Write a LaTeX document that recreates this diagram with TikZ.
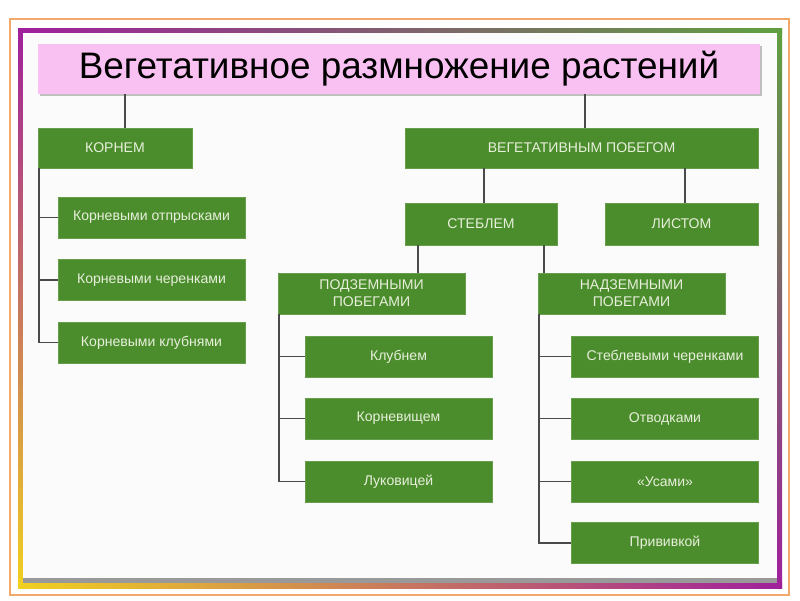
\documentclass[tikz,border=0pt]{standalone}
\usepackage{fontspec}
\setmainfont{Liberation Sans}
\usepackage{xcolor}
\usepackage{tikz}
\usetikzlibrary{positioning}
\definecolor{boxgreen}{HTML}{4B8D2C}
\definecolor{boxtext}{HTML}{E8EFDC}
\definecolor{titlepink}{HTML}{F9C0F2}
\definecolor{frameorange}{HTML}{F2A868}
\definecolor{framepurple}{HTML}{A0209C}
\definecolor{framered}{HTML}{E8283C}
\definecolor{frameyellow}{HTML}{F0D020}
\definecolor{framegreen}{HTML}{60A040}
\definecolor{frameblue}{HTML}{2040B0}
\definecolor{linegray}{HTML}{4A4A4A}
\definecolor{panelwhite}{HTML}{FBFBFB}
\tikzset{
  box/.style={draw=boxgreen!85!white, fill=boxgreen, text=boxtext, align=center,
    font=\fontsize{8}{9.6}\selectfont, inner sep=0pt, minimum height=0.82cm},
  wide/.style={minimum width=3.74cm},
  conn/.style={draw=linegray, line width=1pt},
}

\begin{document}
\begin{tikzpicture}[x=0.02cm, y=-0.02cm]
      \useasboundingbox (0,0) rectangle (800,600);

      % Outer frame
      \draw[frameorange, line width=0.7pt] (10,19) rectangle (789,595);
      \shade[left color=framepurple, middle color=framered!60!orange, right color=framegreen] (18,28) rectangle (782,33);
      \shade[top color=framepurple, bottom color=frameyellow] (18,28) rectangle (23,588);
      \shade[top color=framegreen, bottom color=framepurple] (777,28) rectangle (782,588);
      \shade[left color=frameyellow, middle color=framegreen!50!frameblue, right color=framepurple] (18,583) rectangle (782,588);

      % Panel
      \fill[black!40] (23,33) rectangle (777,583);
      \fill[panelwhite] (23,33) rectangle (777,578);

      % Title
      \fill[black!25] (40,46) rectangle (762,96);
      \node[fill=titlepink, minimum width=14.44cm, minimum height=1cm, inner sep=0pt,
        font=\fontsize{21}{25}\selectfont] (title) at (399,69) {Вегетативное размножение растений};

      % Root branch
      \node[box, minimum width=3.08cm, minimum height=0.8cm] (korn) at (115,148) {КОРНЕМ};
      \node[box, wide] (otpr) at (151.5,217.5) {Корневыми отпрысками};
      \node[box, wide] (cher) at (151.5,280) {Корневыми черенками};
      \node[box, wide] (klub) at (151.5,342.5) {Корневыми клубнями};

      % Shoot branch
      \node[box, minimum width=7.06cm, minimum height=0.8cm] (veg) at (581.5,148) {ВЕГЕТАТИВНЫМ ПОБЕГОМ};
      \node[box, minimum width=3.04cm, minimum height=0.84cm] (stem) at (481,224) {СТЕБЛЕМ};
      \node[box, minimum width=3.06cm, minimum height=0.84cm] (list) at (681.5,224) {ЛИСТОМ};
      \node[box, wide] (podz) at (371.5,293.5) {ПОДЗЕМНЫМИ\\ПОБЕГАМИ};
      \node[box, wide] (nadz) at (631.5,293.5) {НАДЗЕМНЫМИ\\ПОБЕГАМИ};

      \node[box, wide] (klubnem) at (398.5,356.5) {Клубнем};
      \node[box, wide] (kornev) at (398.5,418.5) {Корневищем};
      \node[box, wide] (lukov) at (398.5,481.5) {Луковицей};

      \node[box, wide] (cherst) at (665,356.5) {Стеблевыми черенками};
      \node[box, wide] (otvod) at (665,418.5) {Отводками};
      \node[box, wide] (usami) at (665,481.5) {«Усами»};
      \node[box, wide] (priv) at (665,543) {Прививкой};

      % Connectors
      \draw[conn] ([xshift=0.2cm]korn.north) -- ([xshift=0.2cm]korn.north |- title.south);
      \draw[conn] ([xshift=0.07cm]veg.north) -- ([xshift=0.07cm]veg.north |- title.south);
      \draw[conn] ([xshift=0.06cm]stem.north) -- ([xshift=0.06cm]stem.north |- veg.south);
      \draw[conn] ([xshift=0.07cm]list.north) -- ([xshift=0.07cm]list.north |- veg.south);
      \draw[conn] ([xshift=0.26cm]stem.south west) coordinate (sl) -- (sl |- podz.north);
      \draw[conn] ([xshift=-0.26cm]stem.south east) coordinate (sr) -- (sr |- nadz.north);

      \foreach \n in {otpr,cher,klub}
        \draw[conn] ([xshift=0.02cm]korn.south west) |- (\n.west);
      \foreach \n in {klubnem,kornev,lukov}
        \draw[conn] ([xshift=0.02cm]podz.south west) |- (\n.west);
      \foreach \n in {cherst,otvod,usami,priv}
        \draw[conn] ([xshift=0.02cm]nadz.south west) |- (\n.west);
\end{tikzpicture}
\end{document}
